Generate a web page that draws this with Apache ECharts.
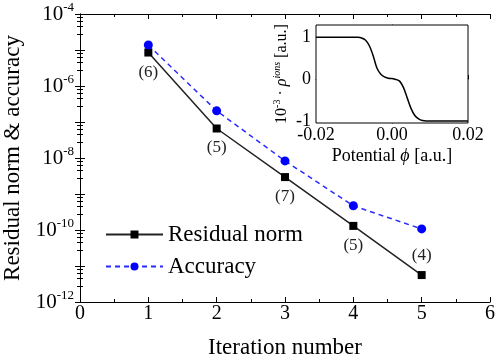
<!DOCTYPE html>
<html>
<head>
<meta charset="utf-8">
<script src="https://cdn.jsdelivr.net/npm/echarts@6/dist/echarts.min.js"></script>
<style>
  html, body { margin: 0; padding: 0; background: #fff; }
  #chart { width: 499px; height: 357px; }
</style>
</head>
<body>
<div id="chart"></div>
<script>
// main plot
const iterations = [1, 2, 3, 4, 5];
const residualNorm = [8.5e-6, 6.6e-8, 2.95e-9, 1.3e-10, 5.6e-12];
const accuracy = [1.38e-5, 2.04e-7, 8.3e-9, 4.7e-10, 1.07e-10];
const innerSteps = [6, 5, 7, 5, 4];

// inset: ion charge density vs potential
const potential = [-0.02, -0.012, -0.009, -0.008, -0.007, -0.006, -0.005, -0.004, -0.003, -0.002, -0.001, 0,
  0.001, 0.002, 0.003, 0.004, 0.005, 0.006, 0.007, 0.008, 0.009, 0.012, 0.02];
const rhoIons = [1, 1, 0.995, 0.98, 0.93, 0.8, 0.57, 0.27, 0.12, 0.05, 0.02, 0.01,
  -0.01, -0.05, -0.2, -0.45, -0.7, -0.87, -0.95, -0.99, -1, -1, -1];

const font = "'Liberation Serif', 'Times New Roman', serif";

var myChart = echarts.init(document.getElementById("chart"));

function zip(xs, ys) {
  return xs.map((x, i) => [x, ys[i]]);
}

function expLabel(v) {
  const e = Math.round(Math.log10(v));
  if (e % 2 !== 0) return "";
  return "{b|10}{s|" + e + "}";
}

const tickStyle = { inside: true, length: 5, lineStyle: { color: "#000" } };
const minorStyle = { show: true, length: 3, lineStyle: { color: "#000" } };

// last annotation sits above its point
const residualData = zip(iterations, residualNorm).map((d, i) =>
  i === iterations.length - 1 ? { value: d, label: { position: "top" } } : { value: d }
);

myChart.setOption({
  animation: false,
  textStyle: { fontFamily: font },
  grid: [
    { left: 80, right: 9, top: 14, bottom: 55, outerBoundsMode: "none" },
    {
      left: 316, width: 152, top: 25, height: 98, outerBoundsMode: "none",
      show: true, backgroundColor: "#fff", borderColor: "#000", borderWidth: 1, z: 5,
    },
  ],
  legend: {
    left: 100,
    top: 218,
    orient: "vertical",
    itemWidth: 57,
    itemHeight: 10,
    itemGap: 9,
    textStyle: { fontFamily: font, fontSize: 23, color: "#000" },
    data: ["Residual norm", "Accuracy"],
  },
  xAxis: [
    {
      type: "value",
      gridIndex: 0,
      min: 0,
      max: 6,
      interval: 1,
      name: "Iteration number",
      nameLocation: "middle",
      nameGap: 34,
      nameTextStyle: { fontSize: 23, color: "#000", fontFamily: font },
      axisLine: { lineStyle: { color: "#000" } },
      axisTick: tickStyle,
      minorTick: Object.assign({ splitNumber: 2 }, minorStyle),
      axisLabel: { fontSize: 20, color: "#000", margin: 2, fontFamily: font },
      splitLine: { show: false },
    },
    {
      type: "value",
      gridIndex: 0,
      position: "top",
      min: 0,
      max: 6,
      interval: 1,
      axisLine: { lineStyle: { color: "#000" } },
      axisTick: tickStyle,
      minorTick: Object.assign({ splitNumber: 2 }, minorStyle),
      axisLabel: { show: false },
      splitLine: { show: false },
    },
    {
      type: "value",
      gridIndex: 1,
      min: -0.02,
      max: 0.02,
      interval: 0.02,
      name: "Potential {i|\u03d5} [a.u.]",
      nameLocation: "middle",
      nameGap: 24,
      nameTextStyle: {
        fontSize: 18, color: "#000", fontFamily: font,
        rich: { i: { fontSize: 18, fontStyle: "italic", fontFamily: font, color: "#000" } },
      },
      axisLine: { lineStyle: { color: "#000" } },
      axisTick: { inside: true, length: 4, lineStyle: { color: "#000" } },
      minorTick: { show: true, splitNumber: 2, length: 4, lineStyle: { color: "#000" } },
      axisLabel: {
        fontSize: 18, color: "#000", margin: 3, fontFamily: font,
        formatter: (v) => v.toFixed(2),
      },
      splitLine: { show: false },
    },
  ],
  yAxis: [
    {
      type: "log",
      gridIndex: 0,
      logBase: 10,
      min: 1e-12,
      max: 1e-4,
      interval: 1,
      name: "Residual norm & accuracy",
      nameLocation: "middle",
      nameGap: 51,
      nameTextStyle: { fontSize: 23, color: "#000", fontFamily: font },
      axisLine: { lineStyle: { color: "#000" } },
      axisTick: tickStyle,
      minorTick: Object.assign({ splitNumber: 5 }, minorStyle),
      axisLabel: {
        margin: 6,
        color: "#000",
        formatter: expLabel,
        rich: {
          b: { fontSize: 21, fontFamily: font, color: "#000" },
          s: { fontSize: 13, fontFamily: font, color: "#000", padding: [0, 0, 12, 0] },
        },
      },
      splitLine: { show: false },
    },
    {
      type: "log",
      gridIndex: 0,
      position: "right",
      logBase: 10,
      min: 1e-12,
      max: 1e-4,
      interval: 1,
      axisLine: { lineStyle: { color: "#000" } },
      axisTick: tickStyle,
      minorTick: Object.assign({ splitNumber: 5 }, minorStyle),
      axisLabel: { show: false },
      splitLine: { show: false },
    },
    {
      type: "value",
      gridIndex: 1,
      min: -1.05,
      max: 1.29,
      name: "{b|10}{s|-3}{b| \u00b7 }{i|\u03c1}{si|ions}{b| [a.u.]}",
      nameLocation: "middle",
      nameGap: 24,
      nameRotate: 90,
      nameTextStyle: {
        fontFamily: font,
        rich: {
          b: { fontSize: 16, fontFamily: font, color: "#000" },
          i: { fontSize: 16, fontFamily: font, fontStyle: "italic", color: "#000" },
          s: { fontSize: 10, fontFamily: font, color: "#000", padding: [0, 0, 10, 0] },
          si: { fontSize: 10, fontFamily: font, fontStyle: "italic", color: "#000", padding: [0, 0, 10, 0] },
        },
      },
      axisLine: { lineStyle: { color: "#000" } },
      axisLabel: {
        fontSize: 18, color: "#000", margin: 5, fontFamily: font,
        customValues: [-1, 0, 1],
      },
      axisTick: { inside: true, length: 4, lineStyle: { color: "#000" }, customValues: [-1, 0, 1] },
      splitLine: { show: false },
    },
  ],
  series: [
    {
      name: "Residual norm",
      type: "line",
      xAxisIndex: 0,
      yAxisIndex: 0,
      data: residualData,
      symbol: "rect",
      symbolSize: 8,
      color: "#111",
      lineStyle: { color: "#222", width: 1.5 },
      itemStyle: { color: "#000" },
      label: {
        show: true,
        position: "bottom",
        distance: 7,
        fontSize: 17,
        color: "#222",
        fontFamily: font,
        formatter: (p) => "(" + innerSteps[p.dataIndex] + ")",
      },
    },
    {
      name: "Accuracy",
      type: "line",
      xAxisIndex: 0,
      yAxisIndex: 0,
      data: zip(iterations, accuracy),
      symbol: "circle",
      symbolSize: 9,
      color: "#0000ff",
      lineStyle: { color: "#2a2aff", width: 1.5, type: [5, 4] },
      itemStyle: { color: "#0000ff" },
    },
    {
      name: "rho",
      type: "line",
      xAxisIndex: 2,
      yAxisIndex: 2,
      data: zip(potential, rhoIons),
      showSymbol: false,
      smooth: 0.3,
      lineStyle: { color: "#000", width: 1.5 },
      z: 6,
    },
  ],
});
</script>
</body>
</html>
